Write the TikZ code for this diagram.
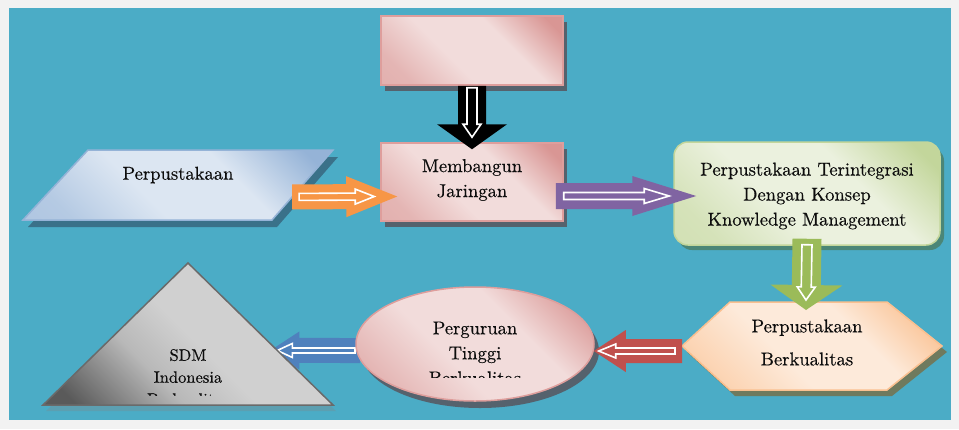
\documentclass[tikz,border=0pt]{standalone}
\usepackage{fontspec}
\usepackage{tikz}
\usetikzlibrary{calc,shapes.geometric,shadows}

\newfontfamily\diagfont[FakeBold=0.4]{lmroman10-regular.otf}

\definecolor{pagegray}{HTML}{F2F2F2}
\definecolor{bgblue}{HTML}{4BACC6}
\definecolor{pinkl}{HTML}{F2DCDB}
\definecolor{pinkd}{HTML}{D99694}
\definecolor{pinkedge}{HTML}{DE9E9C}
\definecolor{bluel}{HTML}{DCE6F2}
\definecolor{blued}{HTML}{95B3D7}
\definecolor{blueedge}{HTML}{95B3D7}
\definecolor{greenl}{HTML}{EBF1DE}
\definecolor{greend}{HTML}{C3D69B}
\definecolor{orangel}{HTML}{FDEADA}
\definecolor{oranged}{HTML}{FAC090}
\definecolor{tril}{HTML}{D0D0D0}
\definecolor{trim}{HTML}{BDBDBD}
\definecolor{trid}{HTML}{5A5A5A}
\definecolor{triedge}{HTML}{6A6A6A}
\definecolor{arrorange}{HTML}{F79646}
\definecolor{arrpurple}{HTML}{8064A2}
\definecolor{arrgreen}{HTML}{9BBB59}
\definecolor{arrred}{HTML}{C0504D}
\definecolor{arrblue}{HTML}{4F81BD}
\definecolor{shdrose}{HTML}{55626D}
\definecolor{shdblue}{HTML}{3A7189}
\definecolor{shdgreen}{HTML}{4B8677}
\definecolor{shdolive}{HTML}{6F7A5E}
\definecolor{shdtri}{HTML}{5C9FB1}

% light middle, dark top right, softer bottom left
\newcommand{\officeshade}[3]{%
  \pgfdeclarehorizontalshading{#1}{100bp}{color(0bp)=(#2!75!#3); color(24bp)=(#2!55!#3);
    color(42bp)=(#3); color(62bp)=(#3); color(80bp)=(#2); color(100bp)=(#2)}}
\officeshade{pinkshade}{pinkd}{pinkl}
\officeshade{blueshade}{blued}{bluel}
\officeshade{greenshade}{greend}{greenl}
\officeshade{orangeshade}{oranged}{orangel}
\pgfdeclarehorizontalshading{trishade}{100bp}{color(0bp)=(trid); color(20bp)=(trid);
  color(38bp)=(tril!80!trid); color(50bp)=(tril); color(70bp)=(tril); color(100bp)=(trim)}

% block arrow: options, from, to, shaft half width, head half width, head length
\newcommand{\blockarrow}[6]{%
  \coordinate (ba) at #2;
  \coordinate (bb) at #3;
  \coordinate (bc) at ($(bb)!#6!(ba)$);
  \path[#1] ($(ba)!#4!90:(bb)$) -- ($(bc)!#4!-90:(ba)$) -- ($(bc)!#5!-90:(ba)$)
    -- (bb) -- ($(bc)!#5!90:(ba)$) -- ($(bc)!#4!90:(ba)$) -- ($(ba)!#4!-90:(bb)$) -- cycle;
}

\tikzset{
  txt/.style={font=\diagfont\fontsize{18.6}{25}\selectfont, text=black!95, align=center},
  shadowed/.style n args={3}{general shadow={fill=#1, shadow xshift=#2, shadow yshift=#3}},
  office/.style={shading=#1, shading angle=45},
  arr/.style={fill=#1},
  hollow/.style={fill=#1, draw=white, line width=1.6pt},
}

\begin{document}
\begin{tikzpicture}[x=1pt, y=-1pt]
  \fill[pagegray] (0,0) rectangle (959,429);
  \fill[bgblue] (9,8) rectangle (951,420);

  % boxes
  \node[office=pinkshade, draw=pinkedge, line width=1.5pt, shadowed={shdrose}{4pt}{-6pt},
        minimum width=182pt, minimum height=69pt] (blank) at (472,50.5) {};
  \node[office=pinkshade, draw=pinkedge, line width=1.5pt, shadowed={shdrose}{4pt}{-6pt},
        minimum width=182pt, minimum height=78pt] (jar) at (472,182) {};
  \node[txt] at (472,180) {Membangun\\Jaringan};

  \coordinate (ptl) at (88,150);
  \coordinate (ptr) at (333,150);
  \coordinate (pbr) at (272,220);
  \coordinate (pbl) at (23,220);
  \path[office=blueshade, draw=blueedge, line width=1.5pt, shadowed={shdblue}{5pt}{-7pt}]
    (ptl) -- (ptr) -- (pbr) -- (pbl) -- cycle;
  \node[txt] (perp) at (178,175) {Perpustakaan};
  \coordinate (pedge) at ($(ptr)!0.67!(pbr)$);

  \node[office=greenshade, draw=greend, line width=1.5pt, rounded corners=14pt,
        shadowed={shdgreen}{4pt}{-5pt}, minimum width=266pt, minimum height=103pt] (kms) at (807,193.5) {};
  \node[txt] at (807,196) {Perpustakaan Terintegrasi\\Dengan Konsep\\Knowledge Management};

  \coordinate (hl) at (682,346);
  \coordinate (htop) at (806,302);
  \path[office=orangeshade, draw=oranged, line width=1.5pt, shadowed={shdolive}{5pt}{-6pt}]
    (hl) -- (730,302) -- (887,302) -- (942,346) -- (887,390) -- (730,390) -- cycle;
  \node[txt] (berk) at (807,342.5) {Perpustakaan\\[8pt]Berkualitas};

  % blue arrow lies under the ellipse and the triangle
  \coordinate (tapex) at (188,263);
  \coordinate (tright) at (333,405);
  \coordinate (tleft) at (43,405);
  \coordinate (tedge) at ($(tapex)!0.616!(tright)$);
  \coordinate (pw) at (356,344);
  \blockarrow{arr=arrblue}{([xshift=4pt,yshift=-6.5pt]pw)}{([xshift=-7pt]tedge)}{12.5pt}{19pt}{29pt}
  \blockarrow{hollow=arrblue}{([xshift=-1pt,yshift=-6.5pt]pw)}{(tedge)}{2.5pt}{7pt}{15pt}

  \node[ellipse, office=pinkshade, draw=pinkedge, line width=1.5pt, shadowed={shdrose}{5pt}{-7pt},
        minimum width=238pt, minimum height=114pt, inner sep=0pt] (pt) at (475,344) {};
  \begin{scope}
    \clip (356,280) rectangle (596,377);
    \node[txt] (ptxt) at (475,353) {Perguruan\\Tinggi\\Berkualitas};
  \end{scope}

  \path[shading=trishade, shading angle=45, draw=triedge, line width=1.5pt, shadowed={shdtri}{3pt}{-6pt}]
    (tapex) -- (tright) -- (tleft) -- cycle;
  \begin{scope}
    \clip (43,330) rectangle (333,395);
    \node[txt, font=\diagfont\fontsize{16.5}{22}\selectfont] (sdm) at (188,377) {SDM\\Indonesia\\Berkualitas};
  \end{scope}

  % arrows
  \blockarrow{arr=black}{(blank.south)}{([yshift=-7pt]jar.north)}{14pt}{35pt}{25pt}
  \blockarrow{hollow=black}{([yshift=-2pt]blank.south)}{([yshift=5pt]jar.north)}{5pt}{9pt}{13pt}

  \blockarrow{arr=arrorange}{(pedge)}{([xshift=17pt,yshift=-14.5pt]jar.west)}{12.5pt}{20.5pt}{51pt}
  \blockarrow{hollow=arrorange}{([xshift=7pt]pedge)}{([xshift=-6pt,yshift=-14.5pt]jar.west)}{3.5pt}{7.5pt}{19pt}

  \blockarrow{arr=arrpurple}{([xshift=-8pt,yshift=-14pt]jar.east)}{([xshift=23pt,yshift=-2.5pt]kms.west)}{13pt}{20pt}{64pt}
  \blockarrow{hollow=arrpurple}{([yshift=-14pt]jar.east)}{([xshift=-4pt,yshift=-2.5pt]kms.west)}{3.5pt}{7.5pt}{25pt}

  \blockarrow{arr=arrgreen}{([yshift=7pt]kms.south)}{([yshift=-8pt]htop)}{14.5pt}{36pt}{25pt}
  \blockarrow{hollow=arrgreen}{([yshift=1pt]kms.south)}{([yshift=2pt]htop)}{5pt}{9pt}{13pt}

  \blockarrow{arr=arrred}{([yshift=-5pt]hl)}{([xshift=-1pt,yshift=-7pt]pt.east)}{12pt}{21pt}{32pt}
  \blockarrow{hollow=arrred}{([xshift=-7pt,yshift=-5pt]hl)}{([xshift=4pt,yshift=-7pt]pt.east)}{3pt}{7pt}{17pt}
\end{tikzpicture}
\end{document}
